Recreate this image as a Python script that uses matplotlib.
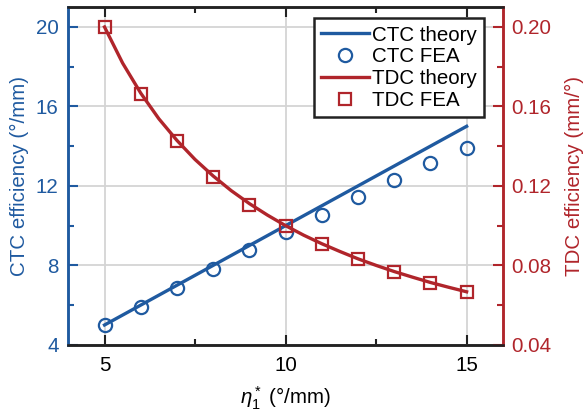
import numpy as np
import matplotlib
matplotlib.use("Agg")
import matplotlib.pyplot as plt
from matplotlib.ticker import MultipleLocator

plt.rcParams["font.family"] = ["Liberation Sans", "DejaVu Sans"]
plt.rcParams["mathtext.fontset"] = "custom"
plt.rcParams["mathtext.it"] = "Liberation Sans:italic"
plt.rcParams["mathtext.rm"] = "Liberation Sans"

BLUE = "#1f5aa0"
RED = "#b0252b"
FS = 14.8

# sweep of eta_1* (deg/mm)
eta = [5, 6, 7, 8, 9, 10, 11, 12, 13, 14, 15]

# CTC efficiency (deg/mm)
ctc_theory = [5, 6, 7, 8, 9, 10, 11, 12, 13, 14, 15]
ctc_fea = [4.98, 5.93, 6.88, 7.82, 8.76, 9.66, 10.54, 11.43, 12.30, 13.14, 13.93]

# TDC efficiency (mm/deg)
eta_fine = [5, 5.5, 6, 6.5, 7, 7.5, 8, 8.5, 9, 9.5, 10,
            10.5, 11, 11.5, 12, 12.5, 13, 13.5, 14, 14.5, 15]
tdc_theory = [0.2000, 0.1818, 0.1667, 0.1538, 0.1429, 0.1333, 0.1250,
              0.1176, 0.1111, 0.1053, 0.1000, 0.0952, 0.0909, 0.0870,
              0.0833, 0.0800, 0.0769, 0.0741, 0.0714, 0.0690, 0.0667]
tdc_fea = [0.2000, 0.1665, 0.1425, 0.1245, 0.1105, 0.0998, 0.0906,
           0.0830, 0.0766, 0.0712, 0.0665]

fig = plt.figure(figsize=(5.84, 4.18), dpi=100)
ax = fig.add_axes([0.117, 0.175, 0.744, 0.808])
ax2 = ax.twinx()

h1, = ax.plot(eta, ctc_theory, color=BLUE, lw=2.4, zorder=3)
h2, = ax.plot(eta, ctc_fea, ls="none", marker="o", ms=9.5, mfc="none",
              mec=BLUE, mew=1.6, zorder=4)
h3, = ax2.plot(eta_fine, tdc_theory, color=RED, lw=2.4, zorder=3)
h4, = ax2.plot(eta, tdc_fea, ls="none", marker="s", ms=8, mfc="none",
               mec=RED, mew=1.6, zorder=4)

ax.set_xlim(4, 16)
ax.set_ylim(4, 21)
ax2.set_ylim(0.04, 0.21)

ax.xaxis.set_major_locator(MultipleLocator(5))
ax.xaxis.set_minor_locator(MultipleLocator(2.5))
ax.yaxis.set_major_locator(MultipleLocator(4))
ax.yaxis.set_minor_locator(MultipleLocator(2))
ax2.yaxis.set_major_locator(MultipleLocator(0.04))
ax2.yaxis.set_minor_locator(MultipleLocator(0.02))
ax2.yaxis.set_major_formatter(plt.FormatStrFormatter("%.2f"))

ax.grid(True, which="major", color="#d4d4d4", lw=1.3, zorder=0)
ax.set_axisbelow(True)

ax.tick_params(axis="x", which="both", direction="in", top=True,
               labelsize=FS, pad=8, width=1.5, color="#222222")
ax.tick_params(axis="x", which="major", length=7)
ax.tick_params(axis="x", which="minor", length=4)
ax.tick_params(axis="y", which="both", direction="in", labelsize=FS,
               pad=7, width=1.5, colors=BLUE)
ax.tick_params(axis="y", which="major", length=7)
ax.tick_params(axis="y", which="minor", length=4)
ax2.tick_params(axis="y", which="both", direction="in", labelsize=FS,
                pad=6, width=1.5, colors=RED)
ax2.tick_params(axis="y", which="major", length=7)
ax2.tick_params(axis="y", which="minor", length=4)

for a in (ax, ax2):
    for s in a.spines.values():
        s.set_linewidth(1.8)
    a.spines["top"].set_color("#222222")
    a.spines["bottom"].set_color("#222222")
    a.spines["left"].set_color(BLUE)
    a.spines["right"].set_color(RED)

ax.set_xlabel(r"$\eta_1^*$" + " (°/mm)", fontsize=FS, labelpad=7)
ax.set_ylabel("CTC efficiency (°/mm)", fontsize=FS, color=BLUE, labelpad=5)
ax2.set_ylabel("TDC efficiency (mm/°)", fontsize=FS, color=RED, labelpad=10)

leg = ax2.legend([h1, h2, h3, h4],
                 ["CTC theory", "CTC FEA", "TDC theory", "TDC FEA"],
                 loc="upper right", bbox_to_anchor=(0.97, 0.985),
                 fontsize=FS, frameon=True, fancybox=False,
                 labelspacing=0.14, handlelength=2.3, handletextpad=0.15,
                 borderpad=0.35, borderaxespad=0.3)
leg.get_frame().set_edgecolor("#222222")
leg.get_frame().set_linewidth(1.8)
leg.get_frame().set_alpha(1)

fig.savefig("out.png", dpi=100)
